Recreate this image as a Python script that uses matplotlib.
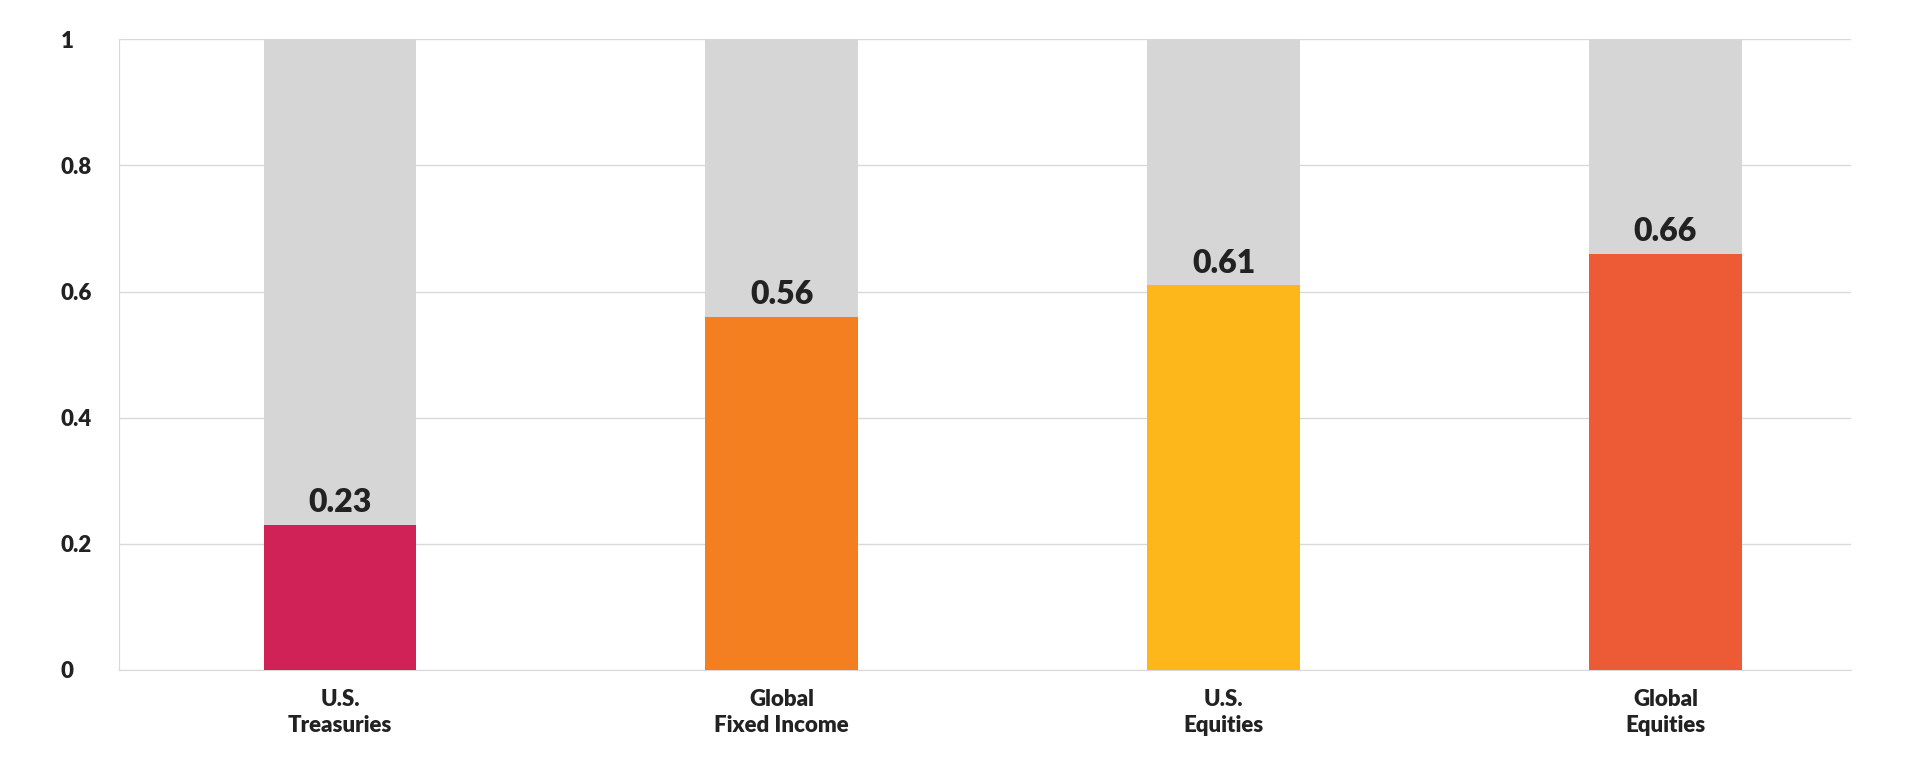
import matplotlib
matplotlib.use("Agg")
import matplotlib.pyplot as plt

categories = ["U.S.\nTreasuries", "Global\nFixed Income", "U.S.\nEquities", "Global\nEquities"]
values = [0.23, 0.56, 0.61, 0.66]
totals = [1, 1, 1, 1]
colors = ["#D02257", "#F47F20", "#FDB71A", "#EC5B36"]
yticks = [0, 0.2, 0.4, 0.6, 0.8, 1]
ylabels = ["0", "0.2", "0.4", "0.6", "0.8", "1"]

plt.rcParams["font.family"] = "Lato"
fig = plt.figure(figsize=(19.2, 7.7), dpi=100)
ax = fig.add_axes([0.062, 0.130, 0.902, 0.819])
x = list(range(len(categories)))
w = 0.346
ax.bar(x, totals, width=w, color="#D6D6D6", zorder=2)
ax.bar(x, values, width=w, color=colors, zorder=3)
for xi, v in zip(x, values):
    ax.text(xi, v + 0.012, f"{v:.2f}", ha="center", va="bottom",
            fontsize=23, fontweight="heavy", color="#222222", zorder=4)
ax.set_xlim(-0.5, 3.42)
ax.set_ylim(0, 1)
ax.set_yticks(yticks)
ax.set_yticklabels(ylabels, fontsize=16, fontweight="heavy", color="#222222")
ax.set_xticks(x)
ax.set_xticklabels(categories, fontsize=16, fontweight="heavy", color="#222222", linespacing=1.3)
ax.grid(axis="y", color="#D9D9D9", linewidth=1, zorder=0)
for s in ["top", "right"]:
    ax.spines[s].set_visible(False)
ax.spines["left"].set_color("#D9D9D9")
ax.spines["bottom"].set_color("#D9D9D9")
ax.tick_params(length=0, pad=14)
ax.tick_params(axis="y", pad=42)
for lab in ax.get_yticklabels():
    lab.set_horizontalalignment("left")
fig.savefig("out.png")
